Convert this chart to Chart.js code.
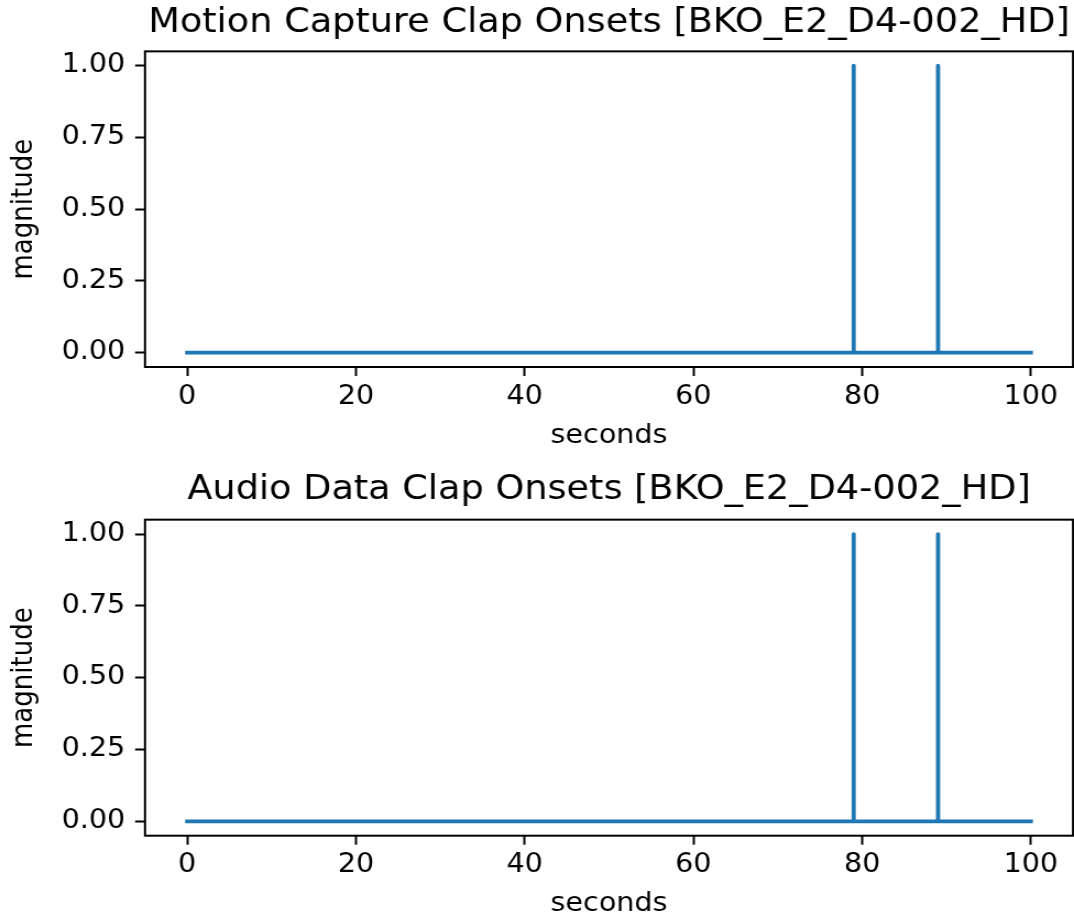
<!DOCTYPE html>
<html>
<head>
<meta charset="utf-8">
<script src="https://cdn.jsdelivr.net/npm/chart.js@4.4.1/dist/chart.umd.min.js"></script>
<style>
  html, body { margin: 0; padding: 0; background: #fff; }
  #wrap { position: relative; width: 1074px; height: 917px; overflow: hidden; background: #fff; }
  canvas { position: absolute; left: 0; transform-origin: 0 0; }
</style>
</head>
<body>
<div id="wrap">
  <canvas id="top"></canvas>
  <canvas id="bottom"></canvas>
</div>
<script>
// ---- data ----
const timesSec = [0, 79, 79, 79, 89, 89, 89, 100];
const mocapMagnitude = [0, 0, 1, 0, 0, 1, 0, 0];
const audioMagnitude = [0, 0, 1, 0, 0, 1, 0, 0];
const xTicks = [0, 20, 40, 60, 80, 100];
const yTicks = [0, 0.25, 0.5, 0.75, 1];
const yTickLabels = ['0.00', '0.25', '0.50', '0.75', '1.00'];
const titles = ['Motion Capture Clap Onsets [BKO_E2_D4-002_HD]', 'Audio Data Clap Onsets [BKO_E2_D4-002_HD]'];
const xLabel = 'seconds';
const yLabel = 'magnitude';

// ---- layout ----
const CANVAS_W = 976;
const SX = 1074 / CANVAS_W;
const FONT = "'DejaVu Sans', sans-serif";
Chart.defaults.color = '#000';
Chart.defaults.font.family = FONT;

const framePlugin = {
  id: 'frame',
  afterDatasetsDraw(chart) {
    const a = chart.chartArea, ctx = chart.ctx;
    ctx.save();
    ctx.strokeStyle = '#000';
    ctx.lineWidth = 2;
    ctx.strokeRect(a.left, a.top, a.right - a.left, a.bottom - a.top);
    ctx.restore();
  }
};

function makeChart(id, topPx, H, title, values, titlePad, xTitlePadBottom, areaBottom) {
  const cv = document.getElementById(id);
  cv.width = CANVAS_W;
  cv.height = H;
  cv.style.top = topPx + 'px';
  cv.style.transform = 'scaleX(' + SX + ')';
  return new Chart(cv, {
    type: 'line',
    data: {
      datasets: [{
        data: timesSec.map((t, i) => ({ x: t, y: values[i] })),
        borderColor: '#1f77b4',
        borderWidth: 3.8,
        borderCapStyle: 'square',
        borderJoinStyle: 'round',
        pointRadius: 0,
        tension: 0,
        fill: false
      }]
    },
    options: {
      responsive: false,
      animation: false,
      devicePixelRatio: 1,
      layout: { padding: { left: 0, right: 0.9, top: 0, bottom: 0 } },
      plugins: {
        legend: { display: false },
        tooltip: { enabled: false },
        title: {
          display: true,
          text: title,
          fullSize: false,
          color: '#000',
          font: { family: FONT, size: 33.3, weight: 'normal', lineHeight: 1.2 },
          padding: titlePad
        }
      },
      scales: {
        x: {
          type: 'linear',
          min: -5, max: 105,
          afterBuildTicks: s => { s.ticks = xTicks.map(v => ({ value: v })); },
          afterFit: s => { s.height = H - areaBottom; },
          grid: { display: true, drawOnChartArea: false, drawTicks: true, tickLength: 9, tickWidth: 2, tickColor: '#000' },
          border: { display: false },
          ticks: { color: '#000', padding: 5.4, maxRotation: 0, font: { family: FONT, size: 26, lineHeight: 1.2 } },
          title: { display: true, text: xLabel, color: '#000', font: { family: FONT, size: 26, lineHeight: 1.2 }, padding: { top: 0, bottom: xTitlePadBottom } }
        },
        y: {
          type: 'linear',
          min: -0.05, max: 1.05,
          afterBuildTicks: s => { s.ticks = yTicks.map(v => ({ value: v })); },
          afterFit: s => { s.width = 131.8; },
          grid: { display: true, drawOnChartArea: false, drawTicks: true, tickLength: 9, tickWidth: 2, tickColor: '#000' },
          border: { display: false },
          ticks: {
            color: '#000', padding: 9,
            font: { family: FONT, size: 26, lineHeight: 1.2 },
            callback: (v) => { const i = yTicks.indexOf(v); return i >= 0 ? yTickLabels[i] : ''; }
          },
          title: { display: true, text: yLabel, color: '#000', font: { family: FONT, size: 26, lineHeight: 1.2 }, padding: { top: 7, bottom: 0 } }
        }
      }
    },
    plugins: [framePlugin]
  });
}

makeChart('top', 0, 458, titles[0], mocapMagnitude, { top: 3.1, bottom: 8.3 }, 6.6, 367);
makeChart('bottom', 458, 459, titles[1], audioMagnitude, { top: 12.5, bottom: 9.2 }, -3.2, 377.7);
</script>
</body>
</html>
